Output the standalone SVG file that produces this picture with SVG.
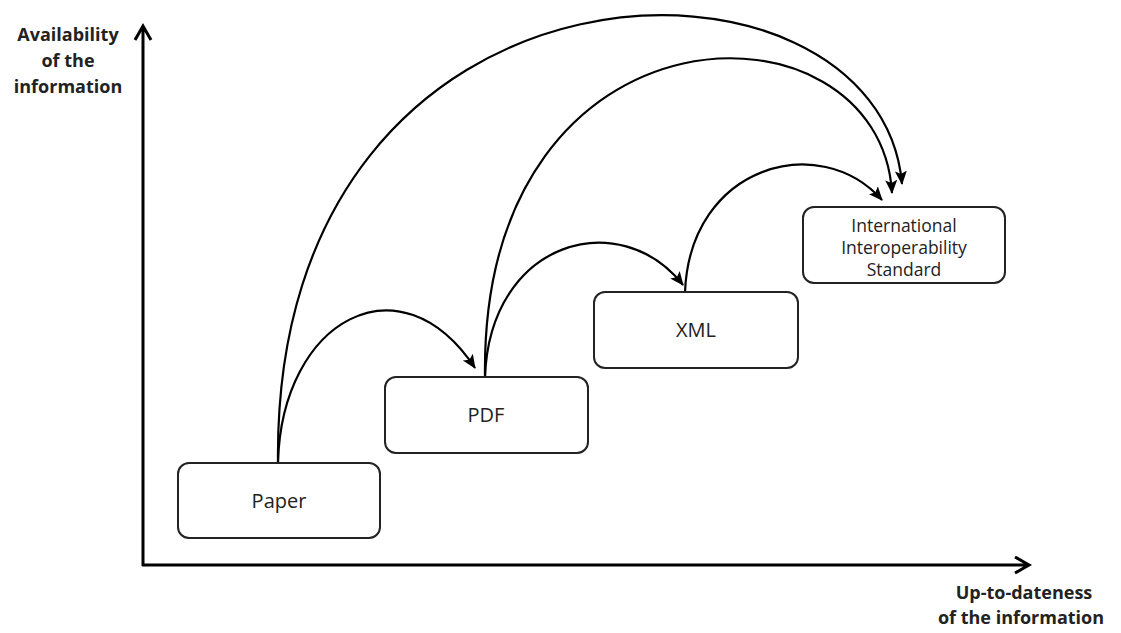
<svg xmlns="http://www.w3.org/2000/svg" width="1121" height="633" viewBox="0 0 1121 633">
<defs>
<style>
.box{fill:#fff;stroke:#222;stroke-width:2}
.lbl{font-family:"Open Sans","Liberation Sans",sans-serif;font-size:20px;fill:#222;text-anchor:middle}
.ax{font-family:"Open Sans","Liberation Sans",sans-serif;font-size:18px;font-weight:bold;fill:#222;text-anchor:middle}
.axis{stroke:#000;stroke-width:3;fill:none}
.con{stroke:#000;stroke-width:2.2;fill:none;marker-end:url(#ah)}
</style>
<marker id="ah" markerWidth="14" markerHeight="14" refX="13" refY="7" orient="auto" markerUnits="userSpaceOnUse" viewBox="0 0 14 14">
<path d="M0,1 L14,7 L0,13 L3,7 Z" fill="#000"/>
</marker>
</defs>
<rect width="1121" height="633" fill="#fff"/>
<g id="axes">
<path class="axis" d="M143,566 V27 M135,40 L143,26 L151,40"/>
<path class="axis" d="M142,565 H1028 M1015,557 L1029,565 L1015,573"/>
<text class="ax" x="68" y="41">Availability</text>
<text class="ax" x="68" y="67">of the</text>
<text class="ax" x="68" y="93">information</text>
<text class="ax" x="1024" y="599">Up-to-dateness</text>
<text class="ax" x="1021" y="624">of the information</text>
</g>
<g id="connectors">
<path class="con" d="M278,462 C272,-75 880,-75 902,184"/>
<path class="con" d="M278,462 C282,320 400,255 475,368"/>
<path class="con" d="M485,377 C480,-10 880,-10 892,193"/>
<path class="con" d="M485,377 C490,240 620,205 683,285"/>
<path class="con" d="M685,292 C690,165 820,130 882,200"/>
</g>
<g id="paper">
<rect class="box" x="178" y="463" width="202" height="75" rx="11"/>
<text class="lbl" x="279" y="508">Paper</text>
</g>
<g id="pdf">
<rect class="box" x="385" y="377" width="203" height="76" rx="11"/>
<text class="lbl" x="486" y="422">PDF</text>
</g>
<g id="xml">
<rect class="box" x="594" y="292" width="204" height="76" rx="11"/>
<text class="lbl" x="696" y="337">XML</text>
</g>
<g id="iis">
<rect class="box" x="803" y="207" width="202" height="76" rx="11"/>
<text class="lbl" x="904" y="232" style="font-size:17.5px">International</text>
<text class="lbl" x="904" y="254" style="font-size:17.5px">Interoperability</text>
<text class="lbl" x="904" y="276" style="font-size:17.5px">Standard</text>
</g>
</svg>
